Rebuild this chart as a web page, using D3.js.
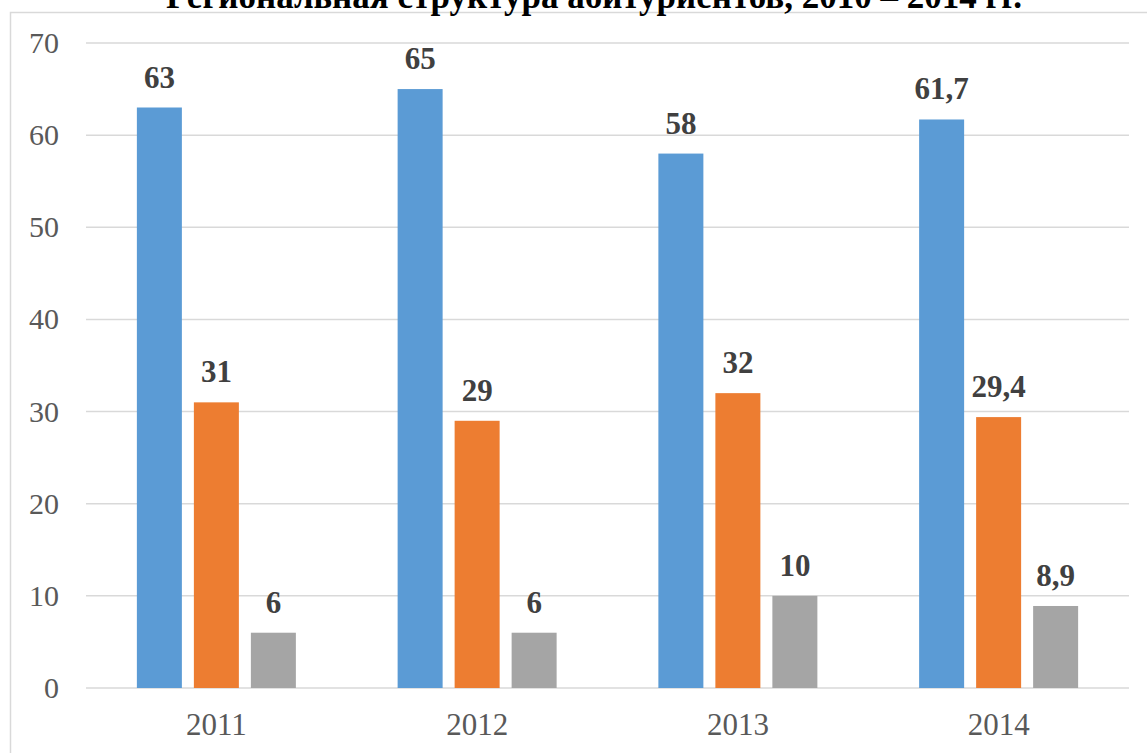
<!DOCTYPE html>
<html>
<head>
<meta charset="utf-8">
<script src="https://cdn.jsdelivr.net/npm/d3@7"></script>
<style>
  body { margin: 0; background: #fff; }
  svg { display: block; }
  text { font-family: 'Liberation Serif', 'Times New Roman', Tinos, serif; }
</style>
</head>
<body>
<script>
(function (d3) {
  'use strict'
  const w = 1147
  const h = 753

  const title = 'Региональная структура абитуриентов, 2010 – 2014 гг.'
  const years = ['2011', '2012', '2013', '2014']
  const series1 = [63, 65, 58, 61.7]
  const series2 = [31, 29, 32, 29.4]
  const series3 = [6, 6, 10, 8.9]
  const seriesColors = ['#5b9bd5', '#ed7d31', '#a5a5a5']
  const yTicks = [0, 10, 20, 30, 40, 50, 60, 70]

  const allSeries = [series1, series2, series3]

  const svg = d3.select('body').append('svg')
    .attr('width', w)
    .attr('height', h)

  // chart frame (bottom/right run off the picture)
  svg.append('rect')
    .attr('x', 10.5).attr('y', 12.5)
    .attr('width', w + 20).attr('height', h + 20)
    .attr('fill', 'none')
    .attr('stroke', '#d9d9d9')
    .attr('stroke-width', 1.5)

  // title, its top is cut off like in the source
  svg.append('text')
    .attr('x', 594).attr('y', 8)
    .attr('text-anchor', 'middle')
    .style('font-weight', 'bold')
    .style('font-size', '35px')
    .attr('fill', '#000')
    .text(title)

  const x = d3.scaleBand().domain(years).range([86, 1129])
  const y = d3.scaleLinear().domain([0, 70]).range([688, 43])

  const barW = 45
  const gap = 12
  const groupW = barW * 3 + gap * 2

  // gridlines
  svg.append('g')
    .selectAll('line')
    .data(yTicks)
    .enter().append('line')
    .attr('x1', 86).attr('x2', 1129)
    .attr('y1', d => y(d)).attr('y2', d => y(d))
    .attr('stroke', '#d9d9d9')
    .attr('stroke-width', 1.5)

  // y axis labels
  svg.append('g')
    .selectAll('text')
    .data(yTicks)
    .enter().append('text')
    .attr('x', 59)
    .attr('y', d => y(d) + 10)
    .attr('text-anchor', 'end')
    .style('font-size', '30px')
    .attr('fill', '#595959')
    .text(d => d)

  // x axis labels
  svg.append('g')
    .selectAll('text')
    .data(years)
    .enter().append('text')
    .attr('x', d => x(d) + x.bandwidth() / 2)
    .attr('y', 735)
    .attr('text-anchor', 'middle')
    .style('font-size', '31px')
    .attr('fill', '#595959')
    .text(d => d)

  const fmt = v => String(v).replace('.', ',')

  allSeries.forEach(function (vals, s) {
    const offset = (x.bandwidth() - groupW) / 2 + s * (barW + gap)
    const g = svg.append('g')

    g.selectAll('rect')
      .data(vals)
      .enter().append('rect')
      .attr('x', (d, i) => x(years[i]) + offset)
      .attr('y', d => y(d))
      .attr('width', barW)
      .attr('height', d => y(0) - y(d))
      .attr('fill', seriesColors[s])

    g.selectAll('text')
      .data(vals)
      .enter().append('text')
      .attr('x', (d, i) => x(years[i]) + offset + barW / 2)
      .attr('y', d => y(d) - 20)
      .attr('text-anchor', 'middle')
      .style('font-weight', 'bold')
      .style('font-size', '31px')
      .attr('fill', '#404040')
      .text(d => fmt(d))
  })

}(d3))
</script>
</body>
</html>
